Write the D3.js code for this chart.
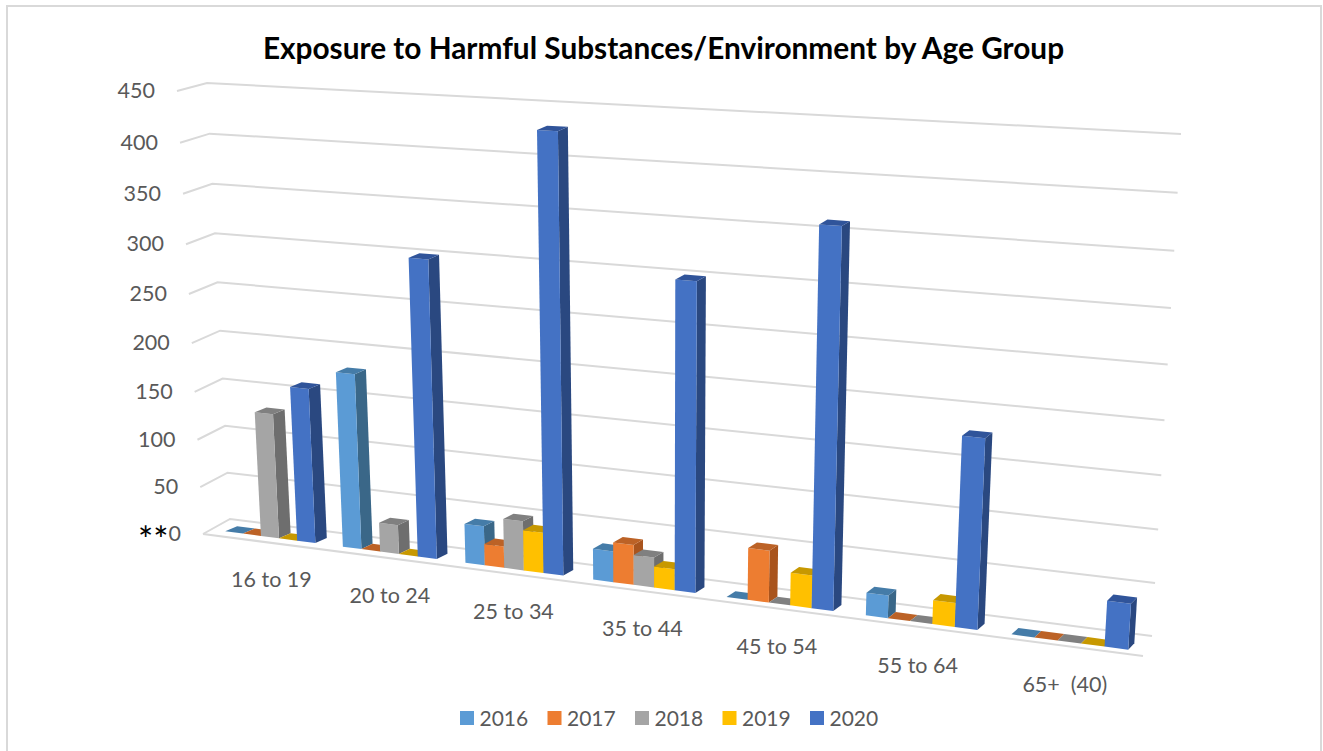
<!DOCTYPE html>
<html>
<head>
<meta charset="utf-8">
<script src="https://cdn.jsdelivr.net/npm/d3@7"></script>
<style>
  html, body { margin: 0; padding: 0; background: #fff; }
  text { font-family: Lato, "Open Sans", sans-serif; }
</style>
</head>
<body>
<div id="chart"></div>
<script>
const categories = ["16 to 19", "20 to 24", "25 to 34", "35 to 44", "45 to 54", "55 to 64", "65+  (40)"];
const years = ["2016", "2017", "2018", "2019", "2020"];
const values2016 = [0, 180, 40, 31, 0, 22, 0];
const values2017 = [0, 0, 22, 40, 51, 0, 0];
const values2018 = [130, 30, 50, 30, 0, 0, 0];
const values2019 = [0, 0, 41, 21, 32, 23, 0];
const values2020 = [160, 300, 429, 300, 360, 180, 43];
const seriesValues = [values2016, values2017, values2018, values2019, values2020];
const yTicks = [0, 50, 100, 150, 200, 250, 300, 350, 400, 450];

const frontColors = ["#5B9BD5", "#ED7D31", "#A5A5A5", "#FFC000", "#4472C4"];
const topColors = ["#457CA8", "#BC6226", "#808080", "#C79800", "#30549A"];
const sideColors = ["#3A6788", "#A9541D", "#6E6E6E", "#AD8400", "#2A4880"];

const width = 1323, height = 751;

// maps the unit square onto a screen quad, so the perspective of the 3d chart stays straight
function planeMap(p00, p10, p11, p01) {
    const dx1 = p10[0] - p11[0], dx2 = p01[0] - p11[0], sx = p00[0] - p10[0] + p11[0] - p01[0];
    const dy1 = p10[1] - p11[1], dy2 = p01[1] - p11[1], sy = p00[1] - p10[1] + p11[1] - p01[1];
    const det = dx1 * dy2 - dx2 * dy1;
    const g = (sx * dy2 - dx2 * sy) / det;
    const h = (dx1 * sy - sx * dy1) / det;
    const a = p10[0] - p00[0] + g * p10[0], b = p01[0] - p00[0] + h * p01[0], c = p00[0];
    const d = p10[1] - p00[1] + g * p10[1], e = p01[1] - p00[1] + h * p01[1], f = p00[1];
    return (u, v) => {
        const w = g * u + h * v + 1;
        return [(a * u + b * v + c) / w, (d * u + e * v + f) / w];
    };
}

// u runs along the categories, v up the value axis
const backWall = planeMap([230, 519], [1152, 636], [1181, 134], [207, 83]);
const frontWall = planeMap([203, 534], [1143, 656], [1176, 142], [177, 91]);
const barFront = planeMap([212, 529.5], [1146, 652], [1178, 142], [187, 88]);
const barBack = planeMap([224, 524.5], [1152, 645.5], [1184, 137], [199, 84]);

const xScale = d3.scaleBand().domain(categories).range([0, 1]).paddingInner(0.23).paddingOuter(0.115);
const seriesScale = d3.scaleBand().domain(years).range([0, xScale.bandwidth()]);
const yScale = d3.scaleLinear().domain([0, 450]).range([0, 1]);
// the labels spread a little less than the bars do
const labelShift = d3.scaleLinear().domain([0, 1]).range([3, -4]);

const svg = d3.select("#chart").append("svg")
    .attr("width", width)
    .attr("height", height)
    .style("display", "block");

svg.append("rect")
    .attr("x", 7).attr("y", 6)
    .attr("width", 1314).attr("height", 760)
    .attr("fill", "#fff")
    .attr("stroke", "#D9D9D9")
    .attr("stroke-width", 2);

svg.append("text")
    .attr("x", 663.5).attr("y", 59)
    .attr("text-anchor", "middle")
    .attr("font-size", 29.8)
    .attr("font-weight", 700)
    .attr("fill", "#000")
    .text("Exposure to Harmful Substances/Environment by Age Group");

// gridlines
const line = d3.line();
const grid = svg.append("g").attr("fill", "none").attr("stroke", "#D9D9D9").attr("stroke-width", 2);
yTicks.forEach((t) => {
    const v = yScale(t);
    grid.append("path").attr("d", line([frontWall(0, v), backWall(0, v), backWall(1, v)]));
});
grid.append("path").attr("d", line([frontWall(0, 0), frontWall(1, 0)]));

// value labels
const tickLabels = svg.append("g").attr("font-size", 21.5).attr("fill", "#595959");
yTicks.forEach((t) => {
    const p = frontWall(0, yScale(t));
    const label = tickLabels.append("text")
        .attr("x", p[0] - 22)
        .attr("y", p[1] + 7)
        .attr("text-anchor", "end");
    if (t === 0) {
        label.append("tspan").attr("fill", "#000").attr("font-size", 36).attr("dy", 12).text("**");
        label.append("tspan").attr("dy", -12).text(t);
    } else {
        label.text(t);
    }
});

// bars, left to right so each front face hides the side of the bar before it
const barLayer = svg.append("g");
categories.forEach((cat, c) => {
    years.forEach((year, s) => {
        const value = seriesValues[s][c];
        const u0 = xScale(cat) + seriesScale(year);
        const u1 = u0 + seriesScale.bandwidth();
        const v0 = yScale(0), v1 = yScale(value);
        const g = barLayer.append("g");
        if (value > 0) {
            g.append("path").attr("fill", sideColors[s]).attr("d",
                line([barFront(u1, v0), barBack(u1, v0), barBack(u1, v1), barFront(u1, v1)]) + "Z");
            g.append("path").attr("fill", frontColors[s]).attr("d",
                line([barFront(u0, v0), barFront(u1, v0), barFront(u1, v1), barFront(u0, v1)]) + "Z");
        }
        g.append("path").attr("fill", topColors[s]).attr("d",
            line([barFront(u0, v1), barFront(u1, v1), barBack(u1, v1), barBack(u0, v1)]) + "Z");
    });
});

// category labels sit a fixed distance below the floor
const labelU = (d) => xScale(d) + xScale.bandwidth() / 2;
svg.append("g").attr("font-size", 21.5).attr("fill", "#595959").attr("text-anchor", "middle")
    .selectAll("text")
    .data(categories)
    .join("text")
    .attr("x", (d) => barFront(labelU(d), 0)[0] - 1 + labelShift(labelU(d)))
    .attr("y", (d) => barFront(labelU(d), 0)[1] + 50)
    .attr("xml:space", "preserve")
    .style("white-space", "pre")
    .text((d) => d);

// legend
const legendX = d3.scalePoint().domain(years).range([460, 810]);
const legend = svg.append("g").selectAll("g").data(years).join("g")
    .attr("transform", (d) => `translate(${legendX(d)},711)`);
legend.append("rect").attr("width", 14).attr("height", 14).attr("fill", (d, i) => frontColors[i]);
legend.append("text")
    .attr("x", 19.5).attr("y", 14.5)
    .attr("font-size", 21)
    .attr("fill", "#595959")
    .text((d) => d);
</script>
</body>
</html>
